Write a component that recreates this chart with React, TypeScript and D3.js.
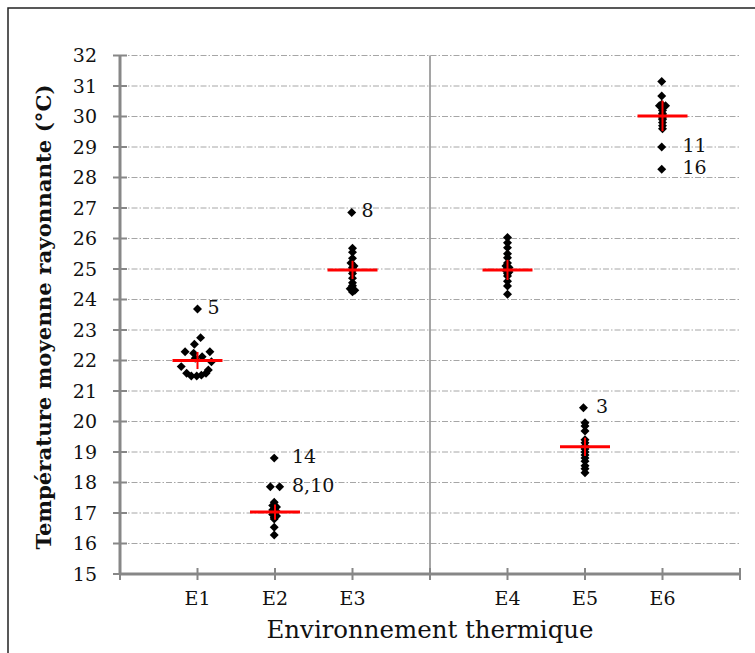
import React from "react";
import * as d3 from "d3";

// ---- Data ----
const categories = ["E1", "E2", "E3", "E4", "E5", "E6"];
const categorySlots = [1, 2, 3, 5, 6, 7];
const separatorSlot = 4;
const yTicks = d3.range(15, 33, 1);

const e1Values = [23.69, 22.75, 22.53, 22.29, 22.24, 22.29, 22.07, 21.96, 21.8, 21.69, 21.58, 21.49, 21.49, 21.52, 21.58, 22.12];
const e1Jitter = [0, 0.04, -0.04, -0.16, -0.05, 0.16, -0.03, 0.18, -0.21, 0.14, -0.14, -0.08, -0.01, 0.05, 0.11, 0.06];
const e2Values = [18.8, 17.86, 17.86, 17.35, 17.25, 17.2, 17.15, 17.1, 17.05, 17.0, 16.95, 16.9, 16.85, 16.8, 16.53, 16.28];
const e2Jitter = [-0.01, -0.06, 0.06, -0.01, -0.03, 0.02, -0.01, -0.03, 0.02, -0.01, -0.03, 0.02, -0.01, -0.01, -0.01, -0.01];
const e3Values = [26.85, 25.68, 25.55, 25.35, 25.2, 25.1, 25.05, 25.0, 24.95, 24.85, 24.7, 24.55, 24.45, 24.35, 24.3, 24.25];
const e3Jitter = [-0.01, 0, 0, 0, -0.02, 0.02, 0, 0, 0, 0, 0, 0, 0, -0.03, 0.03, 0];
const e4Values = [26.03, 25.86, 25.7, 25.5, 25.37, 25.2, 25.1, 25.05, 25.0, 24.95, 24.9, 24.85, 24.77, 24.6, 24.44, 24.17];
const e4Jitter = [0, 0, 0, 0, 0, 0, -0.02, 0.02, 0, -0.02, 0.02, 0, 0, 0, 0, 0];
const e5Values = [20.45, 19.96, 19.85, 19.69, 19.4, 19.3, 19.2, 19.15, 19.1, 19.0, 18.9, 18.8, 18.7, 18.55, 18.45, 18.32];
const e5Jitter = [-0.02, 0, 0, 0, 0, 0, 0, 0, 0, 0, 0, 0, 0, 0, 0, 0];
const e6Values = [31.15, 30.67, 30.4, 30.35, 30.35, 30.2, 30.1, 30.05, 30.0, 29.95, 29.9, 29.8, 29.7, 29.6, 29.0, 28.27];
const e6Jitter = [-0.01, -0.01, -0.01, -0.04, 0.04, 0, 0, 0, 0, 0, 0, 0, 0, 0, -0.01, -0.01];

const groupValues = [e1Values, e2Values, e3Values, e4Values, e5Values, e6Values];
const groupJitter = [e1Jitter, e2Jitter, e3Jitter, e4Jitter, e5Jitter, e6Jitter];

const means = [22.0, 17.03, 24.97, 24.97, 19.17, 30.02];
const errors = [0.28, 0.25, 0.3, 0.33, 0.3, 0.5];

const annotGroup = [0, 1, 1, 2, 4, 5, 5];
const annotValue = [23.69, 18.8, 17.86, 26.85, 20.45, 29.0, 28.27];
const annotText = ["5", "14", "8,10", "8", "3", "11", "16"];

// ---- Layout ----
const W = 755;
const H = 653;
const x0 = 120, x1 = 740;
const yTop = 55.5, yBot = 574;
const annotDx = [10, 17, 17, 9, 11, 20, 20];
const FONT = "'DejaVu Serif', 'Liberation Serif', serif";
const AXIS = "#878787";

export default function App() {
  const x = d3.scaleLinear().domain([0, 8]).range([x0, x1]);
  const y = d3.scaleLinear().domain([15, 32]).range([yBot, yTop]);
  const diamond = d3.symbol(d3.symbolSquare, 40)() as string;
  const xTicks = d3.range(0, 9, 1);

  return (
    <svg
      width={W}
      height={H}
      style={{ position: "absolute", left: 0, top: 0, background: "#fff" }}
    >
      {/* frame */}
      <rect x={8} y={8} width={900} height={900} fill="none" stroke="#222" strokeWidth={1.5} />

      {/* gridlines */}
      {yTicks.slice(1).map((t) => (
        <line
          key={"g" + t}
          x1={x0}
          x2={x1}
          y1={y(t)}
          y2={y(t)}
          stroke="#a6a6a6"
          strokeWidth={1}
          strokeDasharray="6,2,1.5,2"
        />
      ))}

      {/* separator */}
      <line x1={x(separatorSlot)} x2={x(separatorSlot)} y1={yTop} y2={yBot} stroke={AXIS} strokeWidth={1.5} />

      {/* y axis */}
      <line x1={x0} x2={x0} y1={yTop} y2={yBot} stroke={AXIS} strokeWidth={3} />
      {yTicks.map((t) => (
        <g key={"yt" + t}>
          <line x1={x0 - 7} x2={x0 + 7} y1={y(t)} y2={y(t)} stroke={AXIS} strokeWidth={2} />
          <text
            x={x0 - 23}
            y={y(t)}
            dy="0.36em"
            textAnchor="end"
            fontFamily={FONT}
            fontSize={19}
            fill="#111"
          >
            {t}
          </text>
        </g>
      ))}

      {/* x axis */}
      <line x1={x0} x2={x1} y1={yBot} y2={yBot} stroke={AXIS} strokeWidth={3} />
      {xTicks.map((t) => (
        <line key={"xt" + t} x1={x(t)} x2={x(t)} y1={yBot - 6} y2={yBot + 6} stroke={AXIS} strokeWidth={2} />
      ))}
      {categories.map((c, i) => (
        <text
          key={"c" + c}
          x={x(categorySlots[i])}
          y={605}
          textAnchor="middle"
          fontFamily={FONT}
          fontSize={19}
          fill="#111"
        >
          {c}
        </text>
      ))}

      {/* axis titles */}
      <text
        x={430}
        y={638}
        textAnchor="middle"
        fontFamily={FONT}
        fontSize={24}
        fill="#111"
        textLength={327}
        lengthAdjust="spacingAndGlyphs"
      >
        Environnement thermique
      </text>
      <text
        transform={`translate(51, ${317}) rotate(-90)`}
        textAnchor="middle"
        fontFamily={FONT}
        fontSize={20}
        fontWeight="bold"
        fill="#111"
        textLength={465}
        lengthAdjust="spacingAndGlyphs"
      >
        Température moyenne rayonnante (°C)
      </text>

      {/* points */}
      {groupValues.map((vals, gi) =>
        vals.map((v, pi) => (
          <path
            key={`p${gi}-${pi}`}
            d={diamond}
            transform={`translate(${x(categorySlots[gi] + groupJitter[gi][pi])}, ${y(v)}) rotate(45)`}
            fill="#000"
          />
        ))
      )}

      {/* mean and error */}
      {means.map((m, gi) => {
        const cx = x(categorySlots[gi]);
        return (
          <g key={"m" + gi}>
            <line x1={cx - 25} x2={cx + 25} y1={y(m)} y2={y(m)} stroke="#ff0000" strokeWidth={3} />
            <line
              x1={cx}
              x2={cx}
              y1={y(m + errors[gi])}
              y2={y(m - errors[gi])}
              stroke="#ff0000"
              strokeWidth={2}
            />
          </g>
        );
      })}

      {/* annotations */}
      {annotText.map((t, i) => (
        <text
          key={"a" + i}
          x={x(categorySlots[annotGroup[i]]) + annotDx[i]}
          y={y(annotValue[i]) - 2}
          dy="0.36em"
          fontFamily={FONT}
          fontSize={19}
          fill="#111"
        >
          {t}
        </text>
      ))}
    </svg>
  );
}
